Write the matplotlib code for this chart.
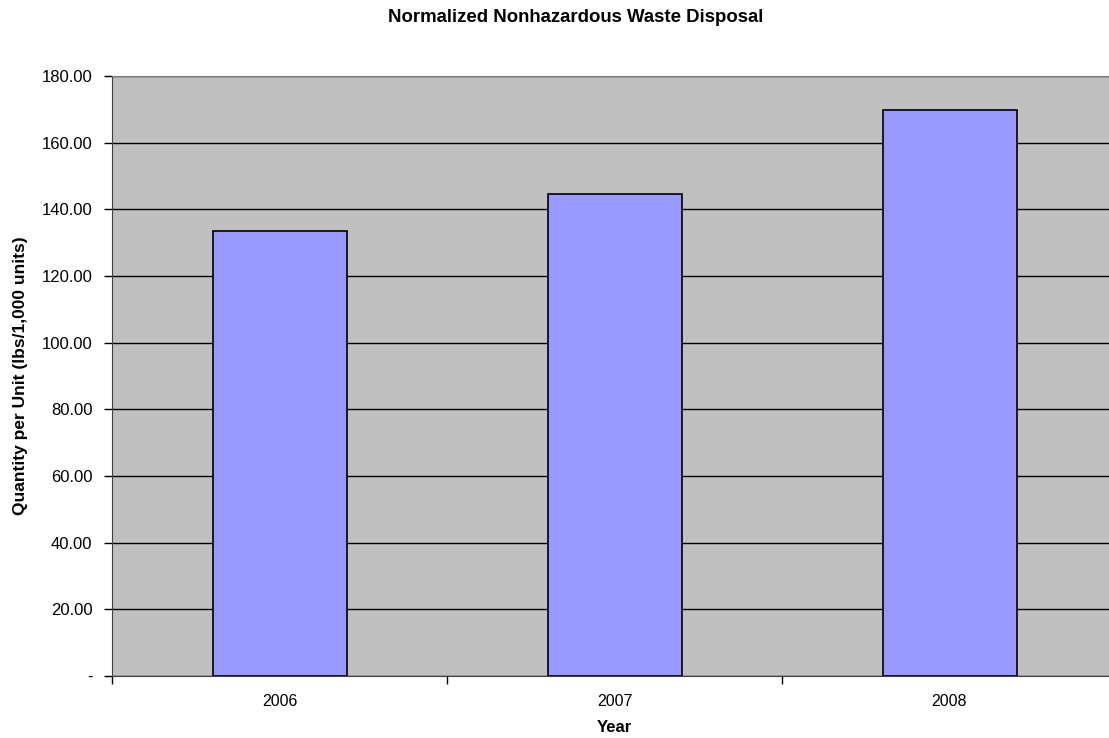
import matplotlib
matplotlib.use("Agg")
import matplotlib.pyplot as plt
from matplotlib.ticker import FuncFormatter

years = ["2006", "2007", "2008"]
values = [133.4, 144.5, 169.7]

plt.rcParams['font.family'] = ['Liberation Sans', 'DejaVu Sans']

fig = plt.figure(figsize=(11.09, 7.38), dpi=100)
ax = fig.add_axes([112/1109, 62/738, 1005/1109, 600/738])
ax.set_facecolor('#C0C0C0')
x = list(range(len(years)))
ax.bar(x, values, width=0.4, color='#9999FF', edgecolor='black', linewidth=1.2, zorder=3)
ax.set_xlim(-0.5, len(years) - 0.5)
ax.set_ylim(0, 180)
ax.set_yticks(range(0, 181, 20))
ax.yaxis.set_major_formatter(FuncFormatter(lambda v, p: '-' if v == 0 else f'{v:.2f}'))
ax.set_xticks(x)
ax.set_xticklabels(years)
ax.set_xticks([i - 0.5 for i in range(len(years) + 1)], minor=True)
ax.tick_params(axis='x', which='major', length=0, pad=13, labelsize=11.5)
ax.tick_params(axis='x', which='minor', length=6, width=1, direction='out')
ax.tick_params(axis='y', length=6, width=1, direction='out', labelsize=12, pad=8)
ax.grid(axis='y', color='black', linewidth=1, zorder=1)
ax.set_axisbelow(True)
ax.spines['right'].set_visible(False)
ax.spines['top'].set_color('#808080')
ax.spines['left'].set_color('#404040')
ax.spines['bottom'].set_color('#404040')
ax.set_xlabel('Year', fontweight='bold', fontsize=12, labelpad=8)
ax.set_ylabel('Quantity per Unit (lbs/1,000 units)', fontweight='bold', fontsize=12.5, labelpad=10)
fig.text(576/1109, 1 - 18/738, 'Normalized Nonhazardous Waste Disposal', ha='center', va='center',
         fontweight='bold', fontsize=13.4)
fig.savefig('out.png', dpi=100)
